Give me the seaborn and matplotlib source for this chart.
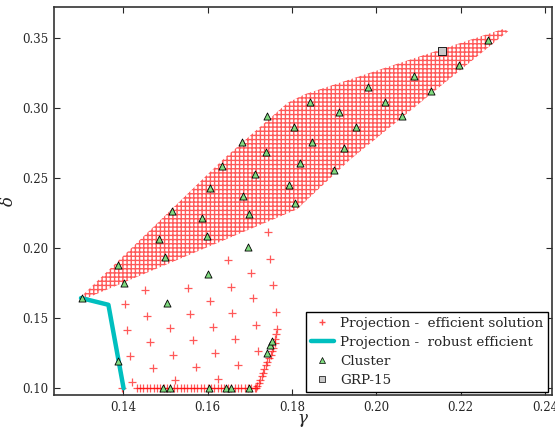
import matplotlib
matplotlib.use("Agg")
import matplotlib.pyplot as plt
import pandas as pd
import seaborn as sns
from matplotlib.lines import Line2D

# ---- data ----
# outline of the dense cloud of projected efficient solutions
region_gamma = [0.1296, 0.1640, 0.1790, 0.1830, 0.2300, 0.2313, 0.1937, 0.1812, 0.1300]
region_delta = [0.1640, 0.2640, 0.3035, 0.3095, 0.3560, 0.3545, 0.2627, 0.2275, 0.1625]

# sparse projected efficient solutions
sparse_gamma = [0.1744, 0.1648, 0.1748, 0.1702, 0.1553, 0.1655, 0.1756, 0.1452,
                0.1606, 0.1707, 0.1404, 0.1457, 0.1558, 0.1659, 0.1762, 0.1410,
                0.1511, 0.1612, 0.1715, 0.1463, 0.1565, 0.1665, 0.1416, 0.1519,
                0.1618, 0.1720, 0.1470, 0.1572, 0.1673, 0.1422, 0.1523, 0.1625]
sparse_delta = [0.2116, 0.1914, 0.1921, 0.1824, 0.1717, 0.1724, 0.1734, 0.1700,
                0.1622, 0.1641, 0.1601, 0.1518, 0.1527, 0.1539, 0.1546, 0.1415,
                0.1427, 0.1439, 0.1451, 0.1332, 0.1344, 0.1353, 0.1230, 0.1239,
                0.1254, 0.1266, 0.1142, 0.1154, 0.1166, 0.1047, 0.1059, 0.1066]

# row of solutions on the lower bound
bottom_gamma = [0.1397, 0.1432, 0.1440, 0.1448, 0.1456, 0.1464, 0.1472, 0.1480,
                0.1488, 0.1496, 0.1504, 0.1512, 0.1520, 0.1528, 0.1536, 0.1544,
                0.1552, 0.1560, 0.1568, 0.1576, 0.1584, 0.1592, 0.1600, 0.1608,
                0.1616, 0.1624, 0.1632, 0.1640, 0.1648, 0.1656, 0.1664, 0.1672,
                0.1680, 0.1688, 0.1696, 0.1704, 0.1712, 0.1716]
bottom_delta = [0.1000] * len(bottom_gamma)

# steep edge of solutions on the right
steep_gamma = [0.1718, 0.1721, 0.1725, 0.1728, 0.1731, 0.1735, 0.1739, 0.1742,
               0.1746, 0.1750, 0.1753, 0.1756, 0.1759, 0.1761, 0.1763, 0.1764]
steep_delta = [0.1015, 0.1040, 0.1062, 0.1085, 0.1110, 0.1138, 0.1165, 0.1190,
               0.1215, 0.1240, 0.1265, 0.1290, 0.1320, 0.1350, 0.1385, 0.1420]

# robust efficient projection
robust_gamma = [0.1300, 0.1365, 0.1401]
robust_delta = [0.1643, 0.1595, 0.1000]

# cluster points
cluster_gamma = [0.1302, 0.1387, 0.1403, 0.1485, 0.1500, 0.1515, 0.1586, 0.1599,
                 0.1606, 0.1601, 0.1696, 0.1698, 0.1685, 0.1634, 0.1712, 0.1739,
                 0.1819, 0.1793, 0.1807, 0.1505, 0.1388, 0.1495, 0.1511, 0.1604,
                 0.1645, 0.1655, 0.1699, 0.1742, 0.1749, 0.1752, 0.1741, 0.1805,
                 0.1681, 0.1843, 0.2265, 0.2196, 0.2089, 0.2129, 0.1981, 0.2020,
                 0.2061, 0.1911, 0.1952, 0.1848, 0.1924, 0.1900]
cluster_delta = [0.1644, 0.1879, 0.1748, 0.2062, 0.1934, 0.2266, 0.2216, 0.2085,
                 0.2425, 0.1813, 0.2009, 0.2242, 0.2373, 0.2584, 0.2527, 0.2682,
                 0.2604, 0.2449, 0.2318, 0.1610, 0.1197, 0.1000, 0.1000, 0.1000,
                 0.1000, 0.1000, 0.1000, 0.1254, 0.1308, 0.1337, 0.2941, 0.2860,
                 0.2757, 0.3043, 0.3482, 0.3304, 0.3226, 0.3121, 0.3145, 0.3041,
                 0.2941, 0.2967, 0.2860, 0.2757, 0.2710, 0.2556]

grp_gamma = [0.2157]
grp_delta = [0.3406]

x_ticks = [0.14, 0.16, 0.18, 0.20, 0.22, 0.24]
y_ticks = [0.10, 0.15, 0.20, 0.25, 0.30, 0.35]

legend_labels = ["Projection -  efficient solution", "Projection -  robust efficient",
                 "Cluster", "GRP-15"]

# ---- style ----
sns.set_style("ticks")
plt.rcParams["font.family"] = ["DejaVu Serif"]
plt.rcParams["mathtext.fontset"] = "dejavuserif"
plt.rcParams["hatch.linewidth"] = 1.0

RED = (1.0, 0.0, 0.0)
CYAN = (0.0, 0.75, 0.75)
GREEN = "#80dc80"
GRAY = "#c8c8c8"

fig = plt.figure(figsize=(5.55, 4.28), dpi=100)
ax = fig.add_axes([0.0973, 0.0771, 0.8967, 0.9054])

# dense region
ax.fill(region_gamma, region_delta, facecolor="none", edgecolor=(1, 0, 0, 0.65),
        hatch="++++", linewidth=0, zorder=1)

pts = pd.DataFrame({
    "gamma": sparse_gamma + bottom_gamma + steep_gamma,
    "delta": sparse_delta + bottom_delta + steep_delta,
})
sns.scatterplot(data=pts, x="gamma", y="delta", marker="+", s=30, color=RED,
                alpha=0.65, linewidth=0.9, ax=ax, zorder=2, legend=False)

rob = pd.DataFrame({"gamma": robust_gamma, "delta": robust_delta})
sns.lineplot(data=rob, x="gamma", y="delta", sort=False, estimator=None,
             color=CYAN, linewidth=3.2, ax=ax, zorder=3, legend=False)

clu = pd.DataFrame({"gamma": cluster_gamma, "delta": cluster_delta})
sns.scatterplot(data=clu, x="gamma", y="delta", marker="^", s=26, color=GREEN,
                edgecolor="black", linewidth=0.6, ax=ax, zorder=4, legend=False)

grp = pd.DataFrame({"gamma": grp_gamma, "delta": grp_delta})
sns.scatterplot(data=grp, x="gamma", y="delta", marker="s", s=28, color=GRAY,
                edgecolor="black", linewidth=0.6, ax=ax, zorder=4, legend=False)

ax.set_xlim(0.1236, 0.2416)
ax.set_ylim(0.0952, 0.3714)
ax.set_xticks(x_ticks)
ax.set_yticks(y_ticks)
ax.set_xticklabels([f"{v:.2f}" for v in x_ticks], fontsize=8.5)
ax.set_yticklabels([f"{v:.2f}" for v in y_ticks], fontsize=8.5)
ax.tick_params(direction="in", top=True, right=True, length=4, width=0.8, pad=4)
ax.set_xlabel(r"$\gamma$", fontsize=12, labelpad=-1)
ax.set_ylabel(r"$\delta$", fontsize=12, labelpad=4)
for sp in ax.spines.values():
    sp.set_color("#333333")
    sp.set_linewidth(1.2)

handles = [
    Line2D([], [], linestyle="none", marker="+", color=RED, alpha=0.7, markersize=5),
    Line2D([], [], color=CYAN, linewidth=3.2),
    Line2D([], [], linestyle="none", marker="^", markerfacecolor=GREEN,
           markeredgecolor="black", markeredgewidth=0.5, markersize=4.5),
    Line2D([], [], linestyle="none", marker="s", markerfacecolor=GRAY,
           markeredgecolor="black", markeredgewidth=0.5, markersize=4.5),
]
leg = ax.legend(handles, legend_labels, loc="lower right", fontsize=9.7,
                frameon=True, fancybox=False, framealpha=1, edgecolor="black",
                borderaxespad=0.25, handlelength=1.7, labelspacing=0.45,
                handletextpad=0.5, borderpad=0.35)
leg.get_frame().set_linewidth(1.0)

fig.savefig("out.png", dpi=100)
